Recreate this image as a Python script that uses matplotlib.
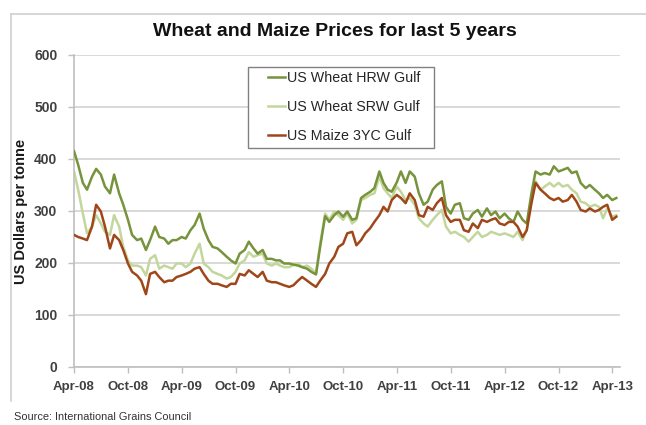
import numpy as np
import pandas as pd
import matplotlib
matplotlib.use("Agg")
import matplotlib.pyplot as plt
import matplotlib.dates as mdates
from matplotlib.patches import Rectangle

plt.rcParams['font.family'] = ['Liberation Sans', 'DejaVu Sans']

# semi-monthly readings, Apr 2008 .. Apr 2013 (US$/tonne)
dates = pd.date_range('2008-04-01', periods=122, freq='SMS')

hrw = [415, 389, 354, 341, 366, 381, 370, 347, 334, 370, 334, 312, 283, 254, 244, 247, 225, 244, 270, 250, 247, 237, 244, 244, 250,
       247, 263, 273, 295, 266, 244, 231, 228, 221, 212, 205, 199, 218, 225, 241, 228, 218, 225, 208, 208, 205, 205, 199, 199,
       197, 195, 192, 189, 183, 178, 231, 290, 279, 292, 299, 289, 299, 283, 286, 325, 331, 337, 344, 376, 354, 341, 337, 355,
       376, 354, 376, 366, 334, 312, 318, 341, 350, 357, 308, 295, 312, 315, 286, 283, 295, 302, 289, 305, 292, 299, 286, 295, 286,
       279, 299, 283, 276, 334, 376, 370, 373, 370, 386, 376, 379, 383, 373, 376, 354, 344, 350, 341, 334, 325, 331, 321, 325]

srw = [376, 341, 295, 257, 270, 292, 276, 260, 254, 292, 270, 231, 205, 195, 195, 192, 176, 208, 215, 189, 195, 192, 189, 199, 199,
       192, 199, 218, 237, 199, 192, 183, 179, 176, 170, 173, 183, 199, 205, 221, 212, 215, 218, 199, 195, 199, 195, 192, 192,
       196, 199, 192, 195, 189, 180, 237, 295, 283, 299, 292, 283, 295, 276, 283, 321, 325, 331, 334, 366, 344, 334, 325, 347,
       337, 321, 325, 312, 286, 276, 270, 283, 292, 302, 270, 257, 260, 254, 250, 241, 250, 260, 250, 254, 260, 257, 254, 257, 254,
       250, 260, 244, 263, 325, 357, 341, 347, 354, 347, 354, 347, 350, 341, 334, 318, 315, 308, 312, 308, 286, 305, 289, 292]

maize = [254, 250, 247, 244, 270, 312, 299, 270, 228, 254, 244, 225, 199, 183, 176, 166, 140, 179, 183, 173, 163, 166, 166, 173, 176,
         179, 183, 189, 192, 179, 166, 160, 160, 157, 154, 160, 160, 179, 176, 186, 179, 173, 183, 166, 163, 163, 160, 157, 154,
         157, 166, 173, 166, 160, 154, 166, 179, 199, 212, 231, 237, 257, 260, 234, 244, 257, 267, 279, 292, 308, 299, 321, 331,
         325, 315, 334, 321, 292, 289, 308, 302, 315, 325, 292, 279, 283, 283, 263, 260, 276, 267, 283, 279, 283, 286, 276, 273, 279,
         279, 270, 250, 263, 315, 354, 341, 334, 325, 321, 325, 318, 321, 331, 318, 302, 299, 305, 299, 302, 308, 312, 283, 289]

tick_dates = pd.date_range('2008-04-01', '2013-04-01', freq='6MS')
tick_labels = [d.strftime('%b-%y') for d in tick_dates]

fig = plt.figure(figsize=(6.46, 4.25), dpi=100)
ax = fig.add_axes([0.1146, 0.1365, 0.8454, 0.7341])

ax.plot(dates, hrw, color='#77933C', lw=1.8, label='US Wheat HRW Gulf', zorder=3)
ax.plot(dates, srw, color='#C3D69B', lw=1.8, label='US Wheat SRW Gulf', zorder=2)
ax.plot(dates, maize, color='#A0471A', lw=1.8, label='US Maize 3YC Gulf', zorder=4)

ax.set_ylim(0, 600)
ax.set_yticks(range(0, 601, 100))
ax.set_xlim(tick_dates[0], pd.Timestamp('2013-04-28'))
ax.set_xticks(mdates.date2num(tick_dates))
ax.set_xticklabels(tick_labels)
ax.tick_params(axis='x', length=4, width=1, color='#BFBFBF', direction='out', pad=6,
               labelsize=9.5, labelcolor='#404040')
ax.tick_params(axis='y', length=4, width=1, color='#BFBFBF', pad=8, labelsize=10, labelcolor='#404040')
for lab in ax.get_xticklabels() + ax.get_yticklabels():
    lab.set_fontweight('bold')

ax.grid(axis='y', color='#D9D9D9', lw=1.4)
ax.set_axisbelow(True)
for s in ['top', 'right']:
    ax.spines[s].set_visible(False)
for s in ['left', 'bottom']:
    ax.spines[s].set_color('#BFBFBF')
    ax.spines[s].set_linewidth(1.2)

ax.set_ylabel('US Dollars per tonne', fontsize=10.5, fontweight='bold', color='#1a1a1a')
ax.yaxis.set_label_coords(-0.085, 0.5)

# legend entries without frame, box drawn separately
leg = ax.legend(loc='upper left', bbox_to_anchor=(0.3553, 0.9487), fontsize=10.3, frameon=False,
                handlelength=1.2, handletextpad=0.1, labelspacing=1.05, borderpad=0, borderaxespad=0)
for t in leg.get_texts():
    t.set_color('#262626')
ax.add_patch(Rectangle((0.3187, 0.7019), 0.3407, 0.2596, transform=ax.transAxes, fill=True,
                       facecolor='white', edgecolor='#808080', lw=1.0, zorder=5))
leg.set_zorder(6)

fig.text(0.518, 0.925, 'Wheat and Maize Prices for last 5 years', ha='center', va='center',
         fontsize=14, fontweight='bold', color='#111111')
fig.text(0.022, 0.006, 'Source: International Grains Council', ha='left', va='bottom', fontsize=7.9, color='#333333')

# chart area border
fig.add_artist(plt.Line2D([11 / 646, 11 / 646], [1 - 401 / 425, 1 - 14 / 425], transform=fig.transFigure,
                          color='#D0D0D0', lw=1.2))
fig.add_artist(plt.Line2D([11 / 646, 1.0], [1 - 14 / 425, 1 - 14 / 425], transform=fig.transFigure,
                          color='#D0D0D0', lw=1.2))

fig.savefig('out.png', dpi=100)
